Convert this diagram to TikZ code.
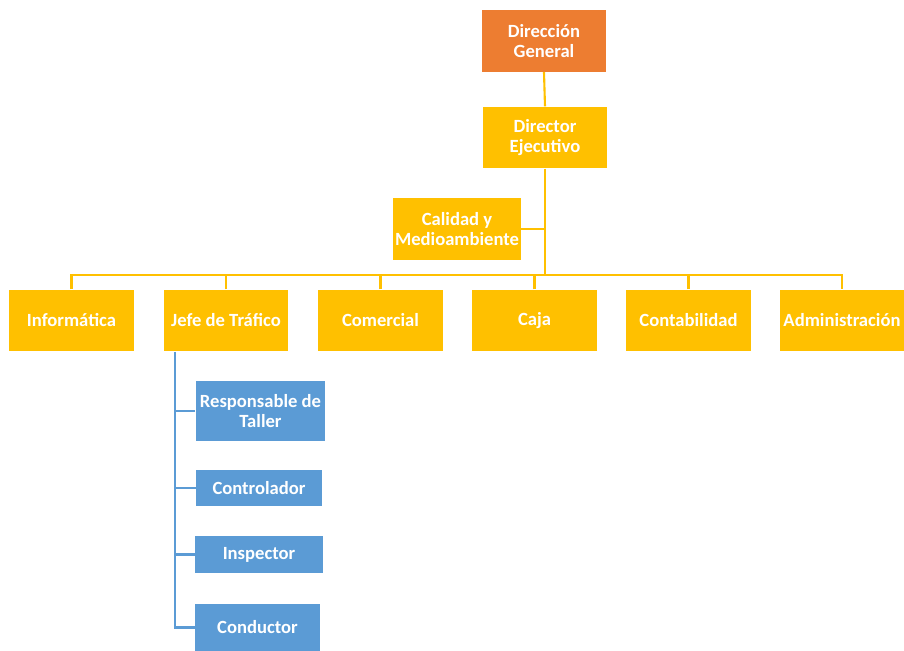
\documentclass[tikz,border=0pt]{standalone}
\usepackage{fontspec}
\setmainfont{Carlito}
\usetikzlibrary{positioning}

\definecolor{naranja}{HTML}{ED7D31}
\definecolor{oro}{HTML}{FFC000}
\definecolor{azul}{HTML}{5B9BD5}

\tikzset{
  caja/.style={fill=oro, text=white, align=center, inner sep=1pt,
    minimum width=2.5cm, minimum height=1.23cm,
    font=\fontsize{10.6}{11.5}\selectfont\bfseries},
  jefatura/.style={caja, fill=naranja},
  puesto/.style={caja, fill=azul, minimum width=2.6cm},
  linea/.style={draw=oro, line width=1.2pt},
}

\begin{document}
\begin{tikzpicture}[x=0.02cm,y=-0.02cm]
      \useasboundingbox (0,0) rectangle (904,651);

      \node[jefatura] (dg) at (544,41) {Dirección\\General};
      \node[caja] (de) at (545,137.5) {Director\\Ejecutivo};
      \node[caja] (cal) at (457,229) {Calidad y\\Medioambiente};

      \node[caja] (inf) at (71.5,320.5) {Informática};
      \node[caja] (jef) at (226,320.5) {Jefe de Tráfico};
      \node[caja] (com) at (380.5,320.5) {Comercial};
      \node[caja] (caj) at (534.5,320.5) {Caja\vphantom{C}};
      \node[caja] (con) at (688.5,320.5) {Contabilidad};
      \node[caja] (adm) at (842,320.5) {Administración};

      \node[puesto, minimum height=1.2cm] (rt) at (260.5,411) {Responsable de\\Taller};
      \node[puesto, minimum width=2.52cm, minimum height=0.72cm] (ctrl) at (259,488) {Controlador};
      \node[puesto, minimum width=2.56cm, minimum height=0.74cm] (insp) at (259,554.5) {Inspector};
      \node[puesto, minimum width=2.5cm, minimum height=0.94cm] (cond) at (257.5,627.5) {Conductor};

      \coordinate (bus) at (0,275);
      \coordinate (tr) at (175,352);

      \draw[linea] (dg.south) -- (de.north);
      \draw[linea] (de.south) -- (de.south |- bus);
      \draw[linea] (cal.east) -- (cal.east -| de.south);
      \draw[linea] (inf.north) |- (adm.north |- bus) -- (adm.north);
      \foreach \n in {jef,com,caj,con}
        \draw[linea] (\n.north) -- (\n.north |- bus);

      \draw[linea, draw=azul] (tr) |- (cond.west);
      \foreach \n in {rt,ctrl,insp}
        \draw[linea, draw=azul] (\n.west) -- (\n.west -| tr);
\end{tikzpicture}
\end{document}
